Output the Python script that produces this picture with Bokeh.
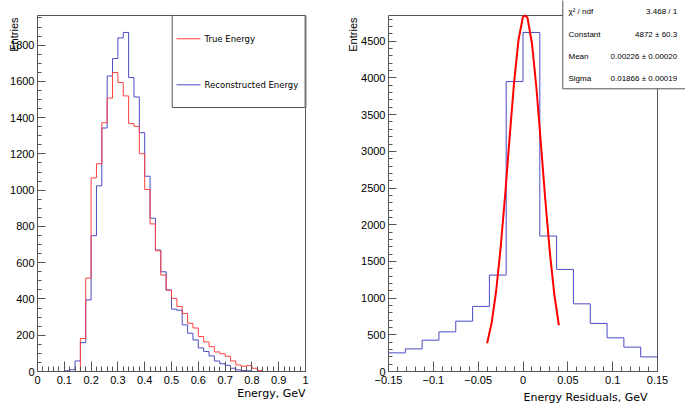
import math
from bokeh.plotting import figure
from bokeh.layouts import row
from bokeh.models import Range1d, FixedTicker, Label
from bokeh.embed import file_html
from bokeh.resources import INLINE

# ---------------- data ----------------
energy_bin_edges = [i / 50 for i in range(51)]
true_energy_counts = [0, 0, 0, 0, 0, 0, 0, 0,
                      182, 515, 1068, 1146, 1372, 1508, 1649, 1594, 1520, 1367,
                      1352, 1201, 1004, 814, 666, 532, 449, 403, 358, 320,
                      266, 240, 193, 163, 137, 108, 98, 84, 58, 36, 29, 32, 18, 6,
                      0, 0, 0, 0, 0, 0, 0, 0]
reco_energy_counts = [0, 0, 0, 0, 0, 4, 10, 58,
                      159, 395, 749, 1024, 1343, 1630, 1726, 1840, 1870, 1621,
                      1514, 1317, 1077, 845, 670, 550, 449, 344, 338, 257,
                      211, 174, 130, 110, 86, 58, 43, 34, 18, 9, 5, 4,
                      0, 0, 0, 0, 0, 0, 0, 0, 0, 0]
assert len(true_energy_counts) == 50 and len(reco_energy_counts) == 50

resid_bin_edges = [-0.15 + i * 0.01875 for i in range(17)]
resid_counts = [254, 308, 427, 540, 686, 887, 1314, 3951,
                4620, 1846, 1391, 922, 655, 459, 332, 199]

fit_x = [-0.04, -0.035, -0.03, -0.025, -0.02, -0.015, -0.01, -0.005, 0.0,
         0.0025, 0.005, 0.01, 0.015, 0.02, 0.025, 0.03, 0.035, 0.04]
fit_y = [385, 660, 1090, 1680, 2390, 3180, 3930, 4520, 4835,
         4850, 4820, 4470, 3860, 3100, 2320, 1615, 1045, 630]

energy_ticks = [0, 0.1, 0.2, 0.3, 0.4, 0.5, 0.6, 0.7, 0.8, 0.9, 1.0]
energy_tick_labels = ["0", "0.1", "0.2", "0.3", "0.4", "0.5", "0.6", "0.7", "0.8", "0.9", "1"]
entries_left_ticks = [0, 200, 400, 600, 800, 1000, 1200, 1400, 1600, 1800]
resid_ticks = [-0.15, -0.1, -0.05, 0.0, 0.05, 0.1, 0.15]
resid_tick_labels = ["\u22120.15", "\u22120.1", "\u22120.05", "0", "0.05", "0.1", "0.15"]
entries_right_ticks = [0, 500, 1000, 1500, 2000, 2500, 3000, 3500, 4000, 4500]

stats_names = ["\u03c7\u00b2 / ndf", "Constant", "Mean", "Sigma"]
stats_values = ["3.468 / 1", "4872 \u00b1 60.3", "0.00226 \u00b1 0.00020", "0.01866 \u00b1 0.00019"]

legend_names = ["True Energy", "Reconstructed Energy"]

# ---------------- style / layout constants (pixels) ----------------
RED = "#ff4040"
BLUE = "#4b4bc8"
FRAME = "#555555"
TICK_FONT = "Liberation Sans"
TITLE_FONT = "DejaVu Sans"

LEFT_YMAX = 1963.5
RIGHT_YMAX = 4851.0
CANVAS_H = 403
FRAME_TOP, FRAME_BOTTOM = 15, 371            # page y of the ROOT frame
L_FRAME_L, L_FRAME_R = 37, 305              # page x, left pad frame
SPLIT = 330                                  # page x where right figure starts
R_FRAME_L, R_FRAME_R = 388, 657              # page x, right pad frame
PAGE_W = 685


def style_axis(ax, ticks, minor, overrides=None, tick_len=10, minor_len=5, standoff=4):
    ax.ticker = FixedTicker(ticks=ticks, minor_ticks=minor)
    ax.axis_line_color = FRAME
    ax.major_tick_line_color = FRAME
    ax.minor_tick_line_color = FRAME
    ax.major_tick_in = tick_len
    ax.major_tick_out = 0
    ax.minor_tick_in = minor_len
    ax.minor_tick_out = 0
    ax.major_label_standoff = standoff
    ax.major_label_text_font = TICK_FONT
    ax.major_label_text_font_size = "11px"
    ax.major_label_text_color = "black"
    ax.axis_label = None
    if overrides:
        ax.major_label_overrides = overrides


def steps(edges, counts):
    return edges, list(counts) + [counts[-1]]


class Mapper:
    """page pixel -> data coordinate helper for placing annotations"""
    def __init__(self, x0, x1, y0, y1, canvas_left, canvas_right, fl, fr):
        self.x0, self.y0 = x0, y0
        self.fl = fl
        self.sx = (x1 - x0) / (fr - fl)
        self.sy = (y1 - y0) / (FRAME_BOTTOM - FRAME_TOP)
        self.x_range = Range1d(self.x(canvas_left), self.x(canvas_right))
        self.y_range = Range1d(self.y(CANVAS_H), self.y(0))

    def x(self, px):
        return self.x0 + (px - self.fl) * self.sx

    def y(self, py):
        return self.y0 + (FRAME_BOTTOM - py) * self.sy


def make_fig(m, width):
    p = figure(width=width, height=CANVAS_H, min_border=0,
               x_range=m.x_range, y_range=m.y_range,
               output_backend="svg", toolbar_location=None, title=None)
    p.xgrid.visible = False
    p.ygrid.visible = False
    p.outline_line_color = None
    return p


# ---------------- left panel ----------------
m1 = Mapper(0, 1, 0, LEFT_YMAX, 0, SPLIT, L_FRAME_L, L_FRAME_R)
p1 = make_fig(m1, SPLIT)

style_axis(p1.xaxis[0], energy_ticks, [i / 50 for i in range(51)],
           {t: l for t, l in zip(energy_ticks, energy_tick_labels)}, 10, 5, 4)
style_axis(p1.yaxis[0], entries_left_ticks, [i * 50 for i in range(40)],
           None, 8, 4, 3)
p1.xaxis[0].fixed_location = 0
p1.yaxis[0].fixed_location = 0
p1.xaxis[0].bounds = (0, 1)
p1.yaxis[0].bounds = (0, LEFT_YMAX)

p1.line([0, 1], [LEFT_YMAX, LEFT_YMAX], line_color=FRAME, line_width=1)
p1.line([1, 1], [0, LEFT_YMAX], line_color=FRAME, line_width=1)

xs, ys = steps(energy_bin_edges, reco_energy_counts)
p1.step(xs, ys, mode="after", line_color=BLUE, line_width=1)
xs, ys = steps(energy_bin_edges, true_energy_counts)
p1.step(xs, ys, mode="after", line_color=RED, line_width=1)

# legend box
p1.quad(left=m1.x(171.7), right=m1.x(305), bottom=m1.y(107), top=m1.y(15),
        fill_color="white", line_color=FRAME, line_width=1)
p1.line([m1.x(305), m1.x(305)], [m1.y(107), m1.y(15)], line_color="#777777", line_width=2)
for color, py in zip([RED, BLUE], [38.3, 84.3]):
    p1.line([m1.x(176), m1.x(200)], [m1.y(py), m1.y(py)], line_color=color, line_width=1)
for name, py in zip(legend_names, [38.3, 84.3]):
    p1.add_layout(Label(x=m1.x(204), y=m1.y(py), text=name, text_font=TITLE_FONT,
                        text_font_size="8.5px", text_baseline="middle",
                        text_align="left", text_color="black"))

p1.add_layout(Label(x=m1.x(13), y=m1.y(17), text="Entries", angle=math.pi / 2,
                    text_align="right", text_baseline="middle",
                    text_font=TICK_FONT, text_font_size="11px", text_color="black"))
p1.add_layout(Label(x=m1.x(305), y=m1.y(393), text="Energy, GeV", text_align="right",
                    text_baseline="middle", text_font=TITLE_FONT,
                    text_font_size="11px", text_color="black"))

# ---------------- right panel ----------------
m2 = Mapper(-0.15, 0.15, 0, RIGHT_YMAX, SPLIT, PAGE_W, R_FRAME_L, R_FRAME_R)
p2 = make_fig(m2, PAGE_W - SPLIT)

style_axis(p2.xaxis[0], resid_ticks, [-0.15 + i * 0.01 for i in range(31)],
           {t: l for t, l in zip(resid_ticks, resid_tick_labels)}, 10, 5, 4)
style_axis(p2.yaxis[0], entries_right_ticks, [i * 100 for i in range(49)],
           None, 8, 4, 3)
p2.xaxis[0].fixed_location = 0
p2.yaxis[0].fixed_location = -0.15
p2.xaxis[0].bounds = (-0.15, 0.15)
p2.yaxis[0].bounds = (0, RIGHT_YMAX)

p2.line([-0.15, 0.15], [RIGHT_YMAX, RIGHT_YMAX], line_color=FRAME, line_width=1)
p2.line([0.15, 0.15], [0, RIGHT_YMAX], line_color=FRAME, line_width=1)

xs, ys = steps(resid_bin_edges, resid_counts)
p2.step(xs, ys, mode="after", line_color=BLUE, line_width=1)
p2.line(fit_x, fit_y, line_color="#ff0000", line_width=2)

# stats box (runs past the top and right edges, as in the reference)
p2.quad(left=m2.x(562.3), right=m2.x(PAGE_W + 5), bottom=m2.y(88.3), top=m2.y(-5),
        fill_color="white", line_color=FRAME, line_width=1)
for name, val, py in zip(stats_names, stats_values, [11, 33.7, 56, 77.7]):
    p2.add_layout(Label(x=m2.x(568), y=m2.y(py), text=name, text_font=TICK_FONT,
                        text_font_size="8px", text_baseline="middle",
                        text_align="left", text_color="black"))
    p2.add_layout(Label(x=m2.x(676.7), y=m2.y(py), text=val, text_font=TICK_FONT,
                        text_font_size="8px", text_baseline="middle",
                        text_align="right", text_color="black"))

p2.add_layout(Label(x=m2.x(352), y=m2.y(17), text="Entries",
                    angle=math.pi / 2, text_align="right", text_baseline="middle",
                    text_font=TICK_FONT, text_font_size="11px", text_color="black"))
p2.add_layout(Label(x=m2.x(647), y=m2.y(397), text="Energy Residuals, GeV",
                    text_align="right", text_baseline="middle", text_font=TITLE_FONT,
                    text_font_size="11px", text_color="black"))

layout = row(p1, p2)
open("out.html", "w").write(file_html(layout, INLINE))
